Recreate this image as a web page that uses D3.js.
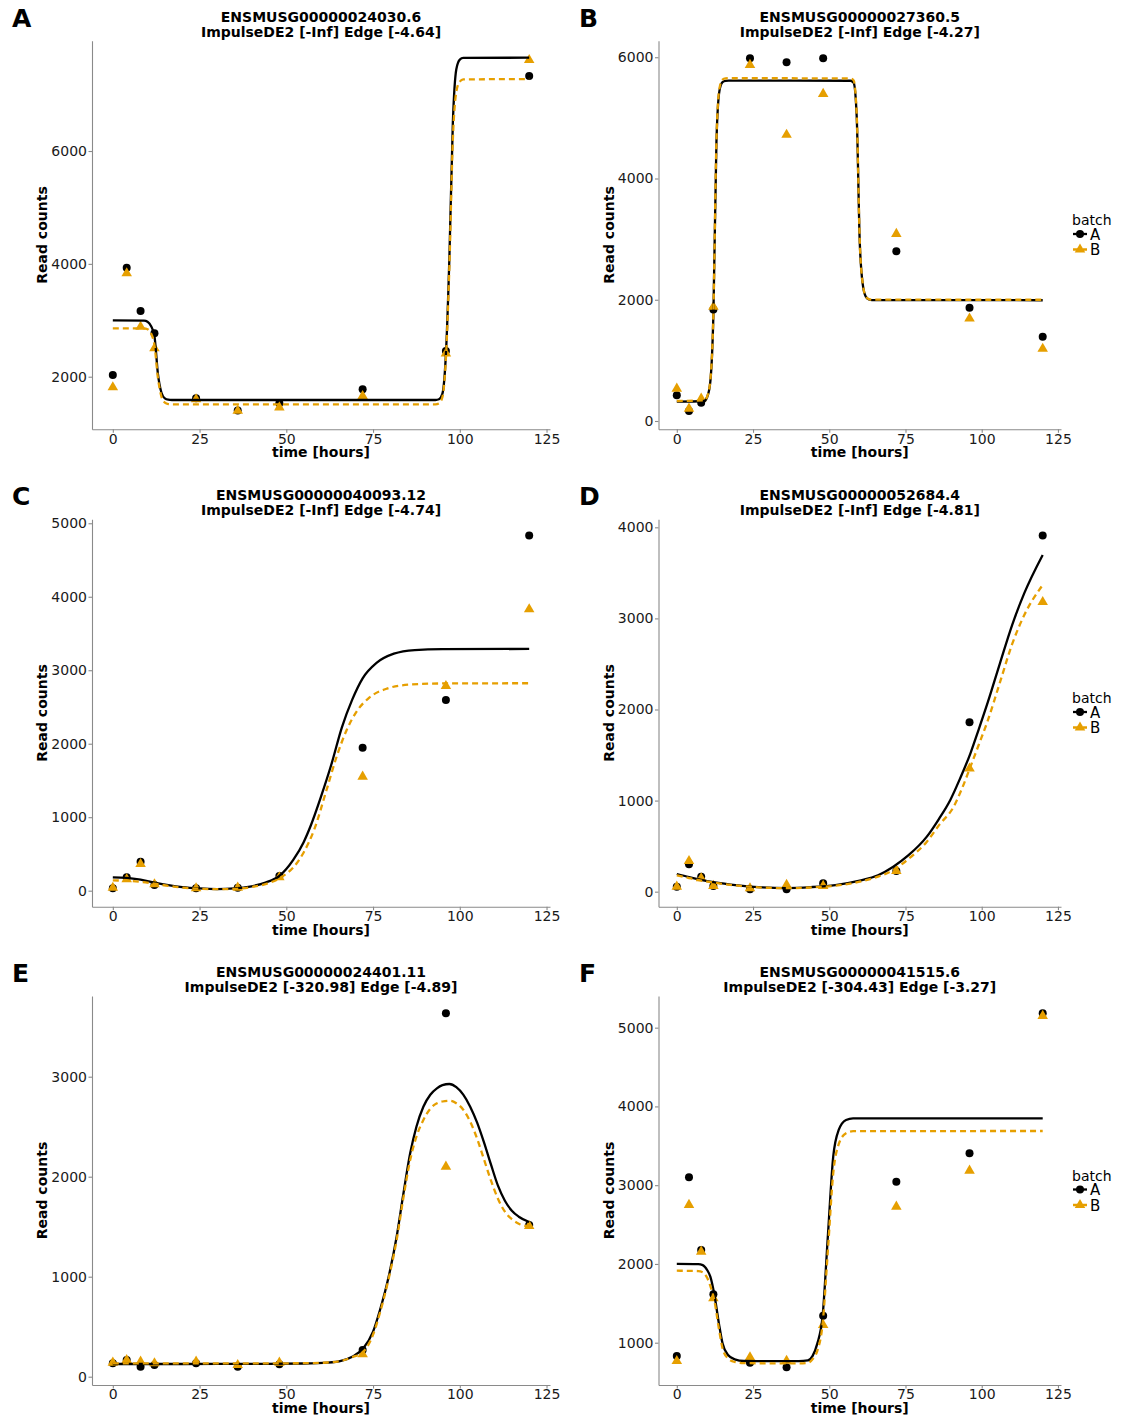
<!DOCTYPE html>
<html>
<head>
<meta charset="utf-8">
<script src="https://cdn.jsdelivr.net/npm/d3@7"></script>
<style>
  body { margin: 0; background: #fff; }
  text { font-family: "DejaVu Sans", sans-serif; }
</style>
</head>
<body>
<script>
// sampling times (hours)
const times = [0, 4, 8, 12, 24, 36, 48, 72, 96, 120];
const xTicks = [0, 25, 50, 75, 100, 125];
const batches = ["A", "B"];

const panelLetters = ["A", "B", "C", "D", "E", "F"];
const geneIds = ["ENSMUSG00000024030.6", "ENSMUSG00000027360.5", "ENSMUSG00000040093.12",
                 "ENSMUSG00000052684.4", "ENSMUSG00000024401.11", "ENSMUSG00000041515.6"];
const scoreLines = ["ImpulseDE2 [-Inf] Edge [-4.64]", "ImpulseDE2 [-Inf] Edge [-4.27]",
                    "ImpulseDE2 [-Inf] Edge [-4.74]", "ImpulseDE2 [-Inf] Edge [-4.81]",
                    "ImpulseDE2 [-320.98] Edge [-4.89]", "ImpulseDE2 [-304.43] Edge [-3.27]"];

const yTicks = [[2000, 4000, 6000], [0, 2000, 4000, 6000], [0, 1000, 2000, 3000, 4000, 5000],
                [0, 1000, 2000, 3000, 4000], [0, 1000, 2000, 3000], [1000, 2000, 3000, 4000, 5000]];

// observed read counts, one value per time point
const aCountsA = [2030, 3932, 3164, 2769, 1617, 1400, 1530, 1777, 2455, 7330];
const aCountsB = [1812, 3833, 2886, 2503, 1600, 1397, 1457, 1658, 2414, 7613];
const bCountsA = [423, 165, 303, 1839, 5984, 5918, 5984, 2799, 1867, 1390];
const bCountsB = [533, 204, 369, 1884, 5873, 4721, 5396, 3086, 1691, 1192];
const cCountsA = [33, 182, 395, 78, 33, 41, 200, 1946, 2596, 4832];
const cCountsB = [40, 155, 363, 87, 33, 41, 182, 1552, 2786, 3830];
const dCountsA = [55, 300, 165, 63, 26, 26, 92, 227, 1860, 3909];
const dCountsB = [55, 337, 147, 63, 37, 74, 63, 227, 1352, 3180];
const eCountsA = [134, 167, 100, 117, 134, 100, 124, 267, 3634, 1517];
const eCountsB = [140, 167, 150, 134, 150, 117, 140, 224, 2100, 1507];
const fCountsA = [831, 3100, 2177, 1615, 746, 688, 1343, 3044, 3405, 5183];
const fCountsB = [768, 2749, 2156, 1564, 815, 771, 1225, 2727, 3184, 5149];

// fitted impulse curves, [time, counts]
const aFitA = [[0,3000],[9,2995],[10,2975],[11,2900],[12,2720],[13,2050],[14,1720],[15,1615],[16,1592],[17,1587],
               [93,1587],[94,1600],[95,1700],[96,2400],[97,4100],[98,6500],[99,7450],[100,7620],[101,7650],[120,7654]];
const aFitB = [[0,2857],[9,2855],[10,2840],[11,2770],[12,2560],[13,1980],[14,1650],[15,1540],[16,1515],[17,1510],
               [93,1510],[94,1525],[95,1640],[96,2330],[97,3950],[98,6200],[99,7050],[100,7230],[101,7268],[120,7276]];
const bFitA = [[0,319],[9,330],[10,400],[11,650],[12,1750],[13,4600],[14,5450],[15,5590],[16,5612],[17,5615],
               [57,5612],[58,5580],[59,5022],[60,2950],[61,2250],[62,2050],[63,2005],[64,1994],[120,1992]];
const bFitB = [[0,330],[9,340],[10,410],[11,670],[12,1770],[13,4630],[14,5490],[15,5630],[16,5650],[17,5654],
               [57,5651],[58,5618],[59,5060],[60,2970],[61,2260],[62,2055],[63,2010],[64,2001],[120,2000]];
const cFitA = [[0,182],[4,175],[8,150],[12,110],[16,75],[20,48],[25,30],[30,22],[35,30],[40,60],[44,110],[48,200],
               [52,418],[55,660],[57,880],[60,1280],[63,1720],[66,2220],[69,2600],[72,2890],[76,3100],[81,3225],
               [87,3275],[95,3287],[120,3290]];
const cFitB = [[0,140],[4,135],[8,120],[12,95],[16,65],[20,42],[25,27],[30,20],[35,25],[40,50],[44,90],[48,168],
               [53,373],[55,520],[58,826],[61.6,1371],[64.5,1824],[67.4,2187],[70.3,2440],[74,2630],[79,2750],
               [85.7,2805],[95,2820],[120,2823]];
const dFitA = [[0,194],[4,160],[8,130],[12,105],[20,70],[28,48],[36,40],[44,50],[52,72],[60,121],[66,180],[71,274],
               [76,400],[82,604],[86,800],[89.7,1007],[93,1250],[96.3,1519],[99,1780],[102,2080],[106,2510],
               [110,2930],[114,3280],[120,3697]];
const dFitB = [[0,180],[4,150],[8,122],[12,100],[20,66],[28,45],[36,38],[44,46],[52,66],[60,110],[66,165],[71,238],
               [76,360],[82,549],[86,730],[90.8,933],[93.5,1130],[96.3,1372],[99,1610],[102,1880],[106,2300],
               [110,2720],[114,3040],[120,3367]];
const eFitA = [[0,127],[20,127],[40,128],[55,132],[62,140],[66,160],[69,200],[72.2,284],[75,450],[77,667],[79.5,1000],
               [81.8,1400],[83.7,1820],[85.7,2234],[87.5,2500],[89.5,2700],[91.5,2820],[93.4,2884],[95,2915],
               [97,2927],[99,2895],[101,2820],[103,2700],[105,2540],[107,2340],[109,2120],[111,1910],[113,1760],
               [115,1660],[117,1600],[120,1547]];
const eFitB = [[0,133],[20,133],[40,133],[55,135],[62,142],[66,160],[69,195],[72.2,250],[75,420],[77,640],[79.5,980],
               [81.8,1367],[83.7,1780],[85.7,2167],[87.5,2400],[89.5,2567],[91.5,2680],[93.4,2734],[95,2752],
               [97.2,2760],[99,2735],[101,2670],[103,2550],[105,2380],[107,2170],[109,1960],[111,1780],[113,1650],
               [115,1575],[117,1530],[120,1500]];
const fFitA = [[0,2000],[7,1997],[8.5,1985],[10,1920],[11,1840],[12.3,1615],[13.8,1246],[15,992],[16.8,844],[19,789],
               [22,768],[40,765],[43,775],[44.5,830],[46.1,992],[47.8,1330],[49.6,2389],[51.3,3362],[53.1,3701],
               [55.5,3828],[57.8,3849],[120,3849]];
const fFitB = [[0,1914],[7,1910],[8.5,1895],[10,1820],[11,1720],[12.3,1540],[13.8,1180],[15,930],[16.8,800],[19,755],
               [22,740],[40,738],[43,745],[44.5,790],[46.1,900],[47.8,1230],[49.6,2200],[51.3,3150],[53.1,3520],
               [55.5,3660],[57.8,3686],[120,3688]];

const countsA = [aCountsA, bCountsA, cCountsA, dCountsA, eCountsA, fCountsA];
const countsB = [aCountsB, bCountsB, cCountsB, dCountsB, eCountsB, fCountsB];
const fitsA = [aFitA, bFitA, cFitA, dFitA, eFitA, fFitA];
const fitsB = [aFitB, bFitB, cFitB, dFitB, eFitB, fFitB];

// y range shown on each panel (ggplot default expansion)
const yDomains = [[1068, 7955], [-137, 6273], [-218, 5054], [-165, 4088], [-83, 3807], [463, 5402]];

const colA = "#000000", colB = "#E69F00";

// layout
const cols = [{x0: 92, x1: 550, letter: 12, ylab: 46.5},
              {x0: 658.5, x1: 1061, letter: 579, ylab: 614}];
const rows = [{y0: 40.7, y1: 429.3, letter: 27},
              {y0: 519.3, y1: 906.7, letter: 505},
              {y0: 996, y1: 1385, letter: 982}];

const svg = d3.select("body").append("svg")
	.attr("width", 1121)
	.attr("height", 1418);

const axisColor = "#8a8a8a";
const fmt = d3.format("d");

let drawPanel = function (i) {
	const col = cols[i % 2], row = rows[Math.floor(i / 2)];

	let x = d3.scaleLinear().domain([-6, 126]).range([col.x0, col.x1]);
	let y = d3.scaleLinear().domain(yDomains[i]).range([row.y1, row.y0]);

	const g = svg.append("g");

	// axes
	let yAxis = g.append("g")
		.attr("transform", `translate(${col.x0},0)`)
		.call(d3.axisLeft(y).tickValues(yTicks[i]).tickFormat(fmt)
			.tickSize(3.5).tickSizeOuter(0).tickPadding(1.5));
	let xAxis = g.append("g")
		.attr("transform", `translate(0,${row.y1})`)
		.call(d3.axisBottom(x).tickValues(xTicks).tickFormat(fmt)
			.tickSize(3.5).tickSizeOuter(0).tickPadding(1));
	[yAxis, xAxis].forEach(a => {
		a.select(".domain").attr("stroke", axisColor).attr("stroke-width", 1.1);
		a.selectAll(".tick line").attr("stroke", axisColor).attr("stroke-width", 1.1);
		a.selectAll(".tick text").attr("fill", "#1a1a1a").style("font-size", "14px")
			.style("font-family", "DejaVu Sans, sans-serif");
	});

	// observed points, batch A then B
	g.append("g").selectAll("circle")
		.data(countsA[i])
		.enter().append("circle")
		.attr("cx", (d, k) => x(times[k]))
		.attr("cy", d => y(d))
		.attr("r", 4)
		.attr("fill", colA);

	g.append("g").selectAll("path")
		.data(countsB[i])
		.enter().append("path")
		.attr("d", d3.symbol(d3.symbolTriangle, 48))
		.attr("transform", (d, k) => `translate(${x(times[k])},${y(d)})`)
		.attr("fill", colB);

	// fitted curves
	let line = d3.line()
		.x(d => x(d[0]))
		.y(d => y(d[1]))
		.curve(d3.curveMonotoneX);

	g.append("path")
		.attr("d", line(fitsA[i]))
		.attr("fill", "none")
		.attr("stroke", colA)
		.attr("stroke-width", 2.3);

	g.append("path")
		.attr("d", line(fitsB[i]))
		.attr("fill", "none")
		.attr("stroke", colB)
		.attr("stroke-width", 2.3)
		.attr("stroke-dasharray", "6,4");

	// titles and labels
	const cx = (col.x0 + col.x1) / 2;
	g.append("text").attr("x", cx).attr("y", row.y0 - 19)
		.attr("text-anchor", "middle").style("font-size", "14px").style("font-weight", "bold")
		.text(geneIds[i]);
	g.append("text").attr("x", cx).attr("y", row.y0 - 4)
		.attr("text-anchor", "middle").style("font-size", "14px").style("font-weight", "bold")
		.text(scoreLines[i]);

	g.append("text").attr("x", cx).attr("y", row.y1 + 28)
		.attr("text-anchor", "middle").style("font-size", "14px").style("font-weight", "bold")
		.text("time [hours]");

	g.append("text")
		.attr("transform", `translate(${col.ylab},${(row.y0 + row.y1) / 2}) rotate(-90)`)
		.attr("text-anchor", "middle").style("font-size", "14px").style("font-weight", "bold")
		.text("Read counts");

	g.append("text").attr("x", col.letter).attr("y", row.letter)
		.style("font-size", "25px").style("font-weight", "bold")
		.text(panelLetters[i]);

	// legend on the right-hand panels
	if (i % 2 === 1) {
		const cy = (row.y0 + row.y1) / 2;
		const lg = g.append("g").attr("transform", `translate(1072,${cy})`);
		lg.append("text").attr("x", 0).attr("y", -10).style("font-size", "14px").text("batch");
		batches.forEach((b, k) => {
			const ky = -1 + k * 15.5;
			lg.append("line").attr("x1", 1).attr("x2", 15).attr("y1", ky).attr("y2", ky)
				.attr("stroke", k === 0 ? colA : colB).attr("stroke-width", 2.3)
				.attr("stroke-dasharray", k === 0 ? null : "6,4");
			if (k === 0)
				lg.append("circle").attr("cx", 8).attr("cy", ky).attr("r", 4).attr("fill", colA);
			else
				lg.append("path").attr("d", d3.symbol(d3.symbolTriangle, 48))
					.attr("transform", `translate(8,${ky})`).attr("fill", colB);
			lg.append("text").attr("x", 18).attr("y", ky + 5.5).style("font-size", "15px").text(b);
		});
	}
};

for (let i = 0; i < 6; i++)
	drawPanel(i);
</script>
</body>
</html>
